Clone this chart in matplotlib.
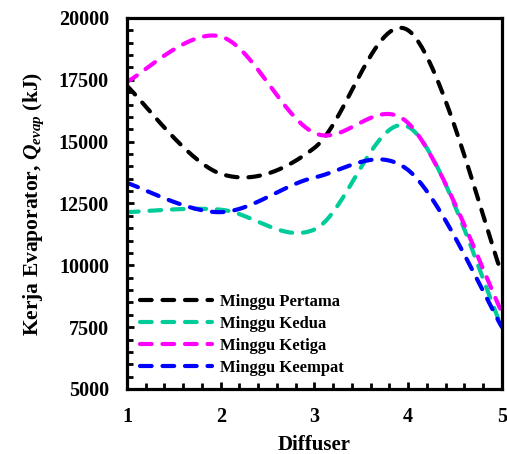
import numpy as np
import matplotlib
matplotlib.use("Agg")
import matplotlib.pyplot as plt
from matplotlib.ticker import MultipleLocator

diffuser = [1, 2, 3, 4, 5]
minggu_pertama = [17250, 13700, 14750, 19500, 9650]
minggu_kedua = [12150, 12250, 11450, 15600, 7500]
minggu_ketiga = [17420, 19250, 15350, 15750, 8100]
minggu_keempat = [13330, 12150, 13550, 13850, 7500]
labels = ["Minggu Pertama", "Minggu Kedua", "Minggu Ketiga", "Minggu Keempat"]
colors = ["#000000", "#00CC99", "#FF00FF", "#0000FF"]

plt.rcParams['font.family'] = 'Liberation Serif'
plt.rcParams['font.weight'] = 'bold'
plt.rcParams['mathtext.fontset'] = 'custom'
plt.rcParams['mathtext.it'] = 'Liberation Serif:italic:bold'
plt.rcParams['mathtext.rm'] = 'Liberation Serif:bold'


def smooth(x, y, n=60):
    """Excel-like smoothed line (Catmull-Rom Bezier)."""
    x = np.asarray(x, float)
    y = np.asarray(y, float)
    P = np.column_stack([x, y])
    m = len(P)
    out = []
    for i in range(m - 1):
        p0 = P[i]
        p3 = P[i + 1]
        prev = P[i - 1] if i > 0 else P[i]
        nxt = P[i + 2] if i + 2 < m else P[i + 1]
        c1 = p0 + (p3 - prev) / 6.0
        c2 = p3 - (nxt - p0) / 6.0
        t = np.linspace(0, 1, n)[:, None]
        seg = ((1 - t) ** 3) * p0 + 3 * ((1 - t) ** 2) * t * c1 + 3 * (1 - t) * t ** 2 * c2 + t ** 3 * p3
        if i > 0:
            seg = seg[1:]
        out.append(seg)
    out = np.vstack(out)
    return out[:, 0], out[:, 1]


fig = plt.figure(figsize=(5.07, 4.54), dpi=100)
ax = fig.add_axes([0.2505, 0.1432, 0.7395, 0.8172])

for series, lab, c in zip([minggu_pertama, minggu_kedua, minggu_ketiga, minggu_keempat], labels, colors):
    sx, sy = smooth(diffuser, series)
    ax.plot(sx, sy, color=c, lw=3, dashes=(2.8, 2.6), dash_capstyle='round', label=lab)

ax.set_xlim(1, 5)
ax.set_ylim(5000, 20000)
ax.xaxis.set_major_locator(MultipleLocator(1))
ax.xaxis.set_minor_locator(MultipleLocator(0.2))
ax.yaxis.set_major_locator(MultipleLocator(2500))
ax.yaxis.set_minor_locator(MultipleLocator(500))
ax.tick_params(which='both', direction='in', width=2, top=False, right=False, labelsize=14.5)
ax.tick_params(which='major', length=5)
ax.tick_params(which='minor', length=4)
ax.tick_params(axis='x', which='both', pad=13)
ax.tick_params(axis='y', which='both', pad=13)
for s in ax.spines.values():
    s.set_linewidth(2.3)

ax.set_xlabel("Diffuser", fontsize=15, fontweight='bold', labelpad=6)
ax.set_ylabel(r"Kerja Evaporator, $Q_{evap}$ (kJ)", fontsize=15.5, fontweight='bold', labelpad=9)

leg = ax.legend(loc='lower left', frameon=False, handlelength=4.3,
                handletextpad=0.45, labelspacing=0.35, borderaxespad=0.4,
                prop={'weight': 'bold', 'size': 12})

fig.savefig("out.png", dpi=100)
